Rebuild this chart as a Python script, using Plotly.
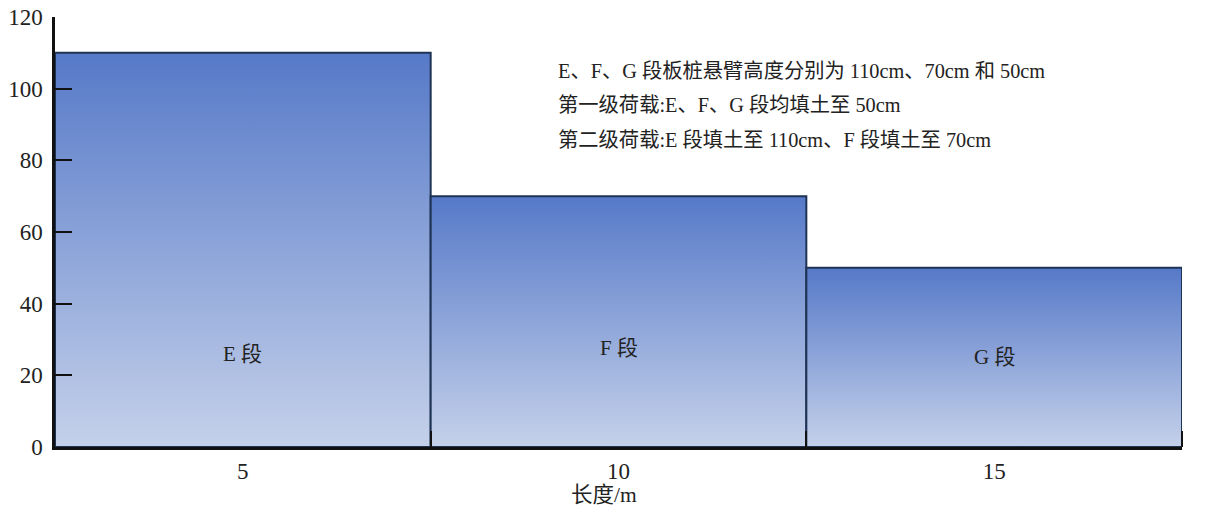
import plotly.graph_objects as go

segments = ["E 段", "F 段", "G 段"]
centers = [5, 10, 15]
widths = [5, 5, 5]
heights = [110, 70, 50]
label_y = [26, 27.5, 25]
y_ticks = [0, 20, 40, 60, 80, 100, 120]
x_ticks = [5, 10, 15]
x_title = "长度/m"
notes = [
    "E、F、G 段板桩悬臂高度分别为 110cm、70cm 和 50cm",
    "第一级荷载:E、F、G 段均填土至 50cm",
    "第二级荷载:E 段填土至 110cm、F 段填土至 70cm",
]

FONT = "Liberation Serif, 'Noto Sans CJK SC', serif"
TOP = "#5679c8"
BOTTOM = "#c5d1ea"
EDGE = "#1f3354"

fig = go.Figure()
for c, w, h in zip(centers, widths, heights):
    x0, x1 = c - w / 2, c + w / 2
    fig.add_trace(go.Scatter(
        x=[x0, x0, x1, x1, x0], y=[0, h, h, 0, 0],
        mode="lines", fill="toself",
        fillgradient=dict(type="vertical", colorscale=[[0, BOTTOM], [1, TOP]]),
        line=dict(color=EDGE, width=2),
        hoverinfo="skip", showlegend=False,
    ))

for s, c, ly in zip(segments, centers, label_y):
    fig.add_annotation(x=c, y=ly, text=s, showarrow=False,
                       font=dict(family=FONT, size=21, color="#222"))

for i, t in enumerate(notes):
    fig.add_annotation(xref="paper", yref="paper", x=(556 - 55) / 1127,
                       y=(447 - 71 - 34.5 * i) / 430,
                       xanchor="left", yanchor="middle", text=t, showarrow=False,
                       font=dict(family=FONT, size=20.3, color="#222"))

fig.add_annotation(xref="paper", yref="paper", x=(604 - 55) / 1127, y=-48 / 430,
                   xanchor="center", yanchor="middle", text=x_title, showarrow=False,
                   font=dict(family=FONT, size=21.5, color="#222"))

fig.update_layout(
    width=1221, height=508,
    margin=dict(l=55, r=39, t=17, b=61, autoexpand=False),
    paper_bgcolor="white", plot_bgcolor="white",
    font=dict(family=FONT, size=23, color="#222"),
    xaxis=dict(range=[2.5, 17.5], tickvals=x_ticks, ticks="", showgrid=False,
               zeroline=False, showline=True, linecolor="#111", linewidth=2.5,
               ticklabelstandoff=2, automargin=False,
               minor=dict(tickvals=[7.5, 12.5, 17.5], ticks="inside", ticklen=16,
                          tickcolor="#111", tickwidth=2, showgrid=False),
               tickfont=dict(size=23)),
    yaxis=dict(range=[0, 120], tickvals=y_ticks, ticks="inside", ticklen=17,
               tickcolor="#111", tickwidth=2, showgrid=False, zeroline=False,
               showline=True, linecolor="#111", linewidth=2.5,
               ticklabelstandoff=5, automargin=False,
               tickfont=dict(size=23)),
)

fig.write_html("out.html")
